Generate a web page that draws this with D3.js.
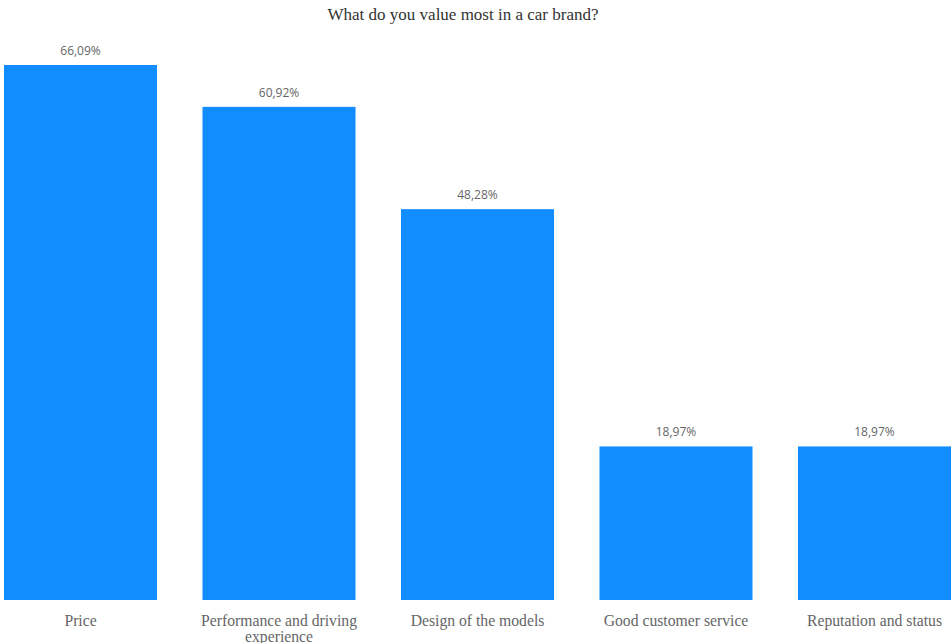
<!DOCTYPE html>
<html>
<head>
<meta charset="utf-8">
<script src="https://cdn.jsdelivr.net/npm/d3@7"></script>
<style>
  html, body { margin: 0; padding: 0; background: #ffffff; overflow: hidden; }
  svg { display: block; }
</style>
</head>
<body>
<svg id="chart" width="951" height="643"></svg>
<script>
// Survey answers: share of respondents per car-brand attribute
const categories = [
  "Price",
  "Performance and driving experience",
  "Design of the models",
  "Good customer service",
  "Reputation and status"
];
const values = [66.09, 60.92, 48.28, 18.97, 18.97];
const valueLabels = ["66,09%", "60,92%", "48,28%", "18,97%", "18,97%"];
const title = "What do you value most in a car brand?";

const svg = d3.select("#chart");
const plot = { left: 4, right: 951, top: 65, bottom: 600 };

const x = d3.scaleBand()
  .domain(categories)
  .range([plot.left, plot.right])
  .paddingInner(0.229)
  .paddingOuter(0);

const y = d3.scaleLinear()
  .domain([0, d3.max(values)])
  .range([plot.bottom, plot.top]);

const data = categories.map((c, i) => ({ c, v: values[i], label: valueLabels[i] }));

// Title
svg.append("text")
  .attr("x", 463)
  .attr("y", 20)
  .attr("text-anchor", "middle")
  .attr("font-family", "'Liberation Serif', 'Times New Roman', serif")
  .attr("font-size", 17)
  .attr("fill", "#333333")
  .text(title);

// Bars
svg.append("g").selectAll("rect")
  .data(data)
  .join("rect")
  .attr("x", d => x(d.c))
  .attr("y", d => y(d.v))
  .attr("width", x.bandwidth())
  .attr("height", d => y(0) - y(d.v))
  .attr("fill", "#118dff");

// Value labels above bars
svg.append("g").selectAll("text")
  .data(data)
  .join("text")
  .attr("x", d => x(d.c) + x.bandwidth() / 2)
  .attr("y", d => y(d.v) - 10)
  .attr("text-anchor", "middle")
  .attr("font-family", "'Open Sans', 'Noto Sans', sans-serif")
  .attr("font-size", 12)
  .attr("fill", "#666666")
  .text(d => d.label);

// Category axis (no line, no ticks), wrapped labels
const xAxis = svg.append("g")
  .attr("transform", `translate(0,${plot.bottom})`)
  .call(d3.axisBottom(x).tickSize(0).tickPadding(0));
xAxis.select(".domain").remove();

function wrap(textSel, width) {
  textSel.each(function () {
    const t = d3.select(this);
    const words = t.text().split(/\s+/);
    t.text(null);
    let line = [];
    let tspan = t.append("tspan").attr("x", 0).attr("dy", 0);
    for (const w of words) {
      line.push(w);
      tspan.text(line.join(" "));
      if (tspan.node().getComputedTextLength() > width && line.length > 1) {
        line.pop();
        tspan.text(line.join(" "));
        line = [w];
        tspan = t.append("tspan").attr("x", 0).attr("dy", "1.0em").text(w);
      }
    }
  });
}

xAxis.selectAll("text")
  .attr("y", 26)
  .attr("dy", 0)
  .attr("font-family", "'Liberation Serif', 'Times New Roman', serif")
  .attr("font-size", 15.7)
  .attr("fill", "#666666")
  .call(wrap, x.bandwidth() + 10);
</script>
</body>
</html>
